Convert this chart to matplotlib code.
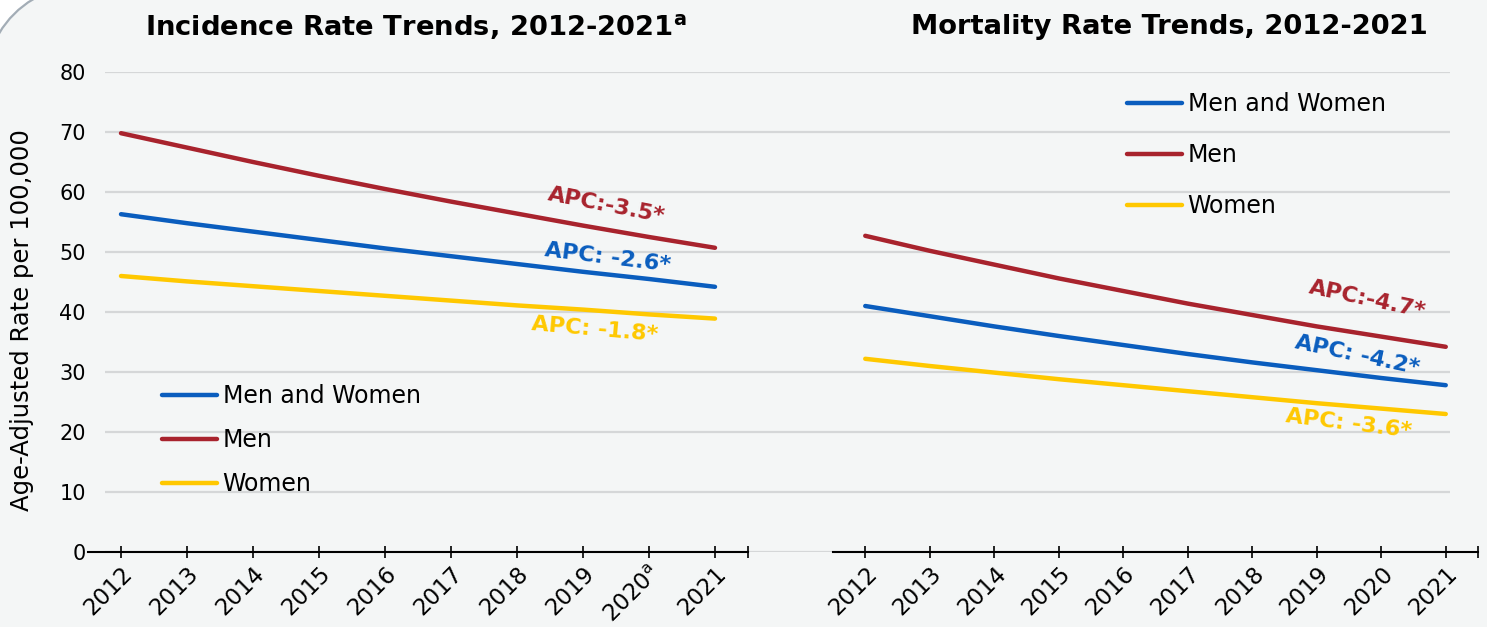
import matplotlib.pyplot as plt
from matplotlib.patches import FancyBboxPatch

# Datos
years = [2012, 2013, 2014, 2015, 2016, 2017, 2018, 2019, 2020, 2021]
inc_labels = ['2012', '2013', '2014', '2015', '2016', '2017', '2018', '2019', '2020$^{\\mathregular{a}}$', '2021']
mort_labels = ['2012', '2013', '2014', '2015', '2016', '2017', '2018', '2019', '2020', '2021']

inc_both = [56.3, 54.8, 53.4, 52.0, 50.6, 49.3, 48.0, 46.7, 45.5, 44.2]
inc_men = [69.8, 67.4, 65.0, 62.7, 60.5, 58.4, 56.4, 54.4, 52.5, 50.7]
inc_women = [46.0, 45.1, 44.3, 43.5, 42.7, 41.9, 41.1, 40.4, 39.6, 38.9]

mort_both = [41.0, 39.3, 37.6, 36.0, 34.5, 33.0, 31.6, 30.3, 29.0, 27.8]
mort_men = [52.7, 50.2, 47.9, 45.6, 43.5, 41.4, 39.5, 37.6, 35.9, 34.2]
mort_women = [32.2, 31.0, 29.9, 28.8, 27.8, 26.8, 25.8, 24.8, 23.9, 23.0]

series_names = ['Men and Women', 'Men', 'Women']
colors = ['#0A5DBE', '#A8232D', '#FFC800']
inc_apc = ['APC: -2.6*', 'APC:-3.5*', 'APC: -1.8*']
mort_apc = ['APC: -4.2*', 'APC:-4.7*', 'APC: -3.6*']

W, H = 1487, 627
fig = plt.figure(figsize=(W / 100, H / 100), dpi=100, facecolor='white')

# Fondo con esquina redondeada (solo se ve el arco de arriba a la izquierda)
bg = fig.add_axes([0, 0, 1, 1])
bg.set_xlim(0, W)
bg.set_ylim(0, H)
bg.axis('off')
bg.add_patch(FancyBboxPatch((-20, -200), W + 300, H + 220,
                            boxstyle='round,pad=0,rounding_size=136',
                            facecolor='#F4F6F6', edgecolor='#A3ADB6', lw=1.6))

y0 = (H - 552) / H
hgt = 480 / H

# Lineas de cuadricula continuas
grid = fig.add_axes([105 / W, y0, 1345 / W, hgt])
grid.set_ylim(0, 80)
grid.set_xlim(0, 1)
grid.patch.set_visible(False)
for s in grid.spines.values():
    s.set_visible(False)
grid.set_xticks([])
grid.set_yticks(range(0, 81, 10))
grid.tick_params(axis='y', length=0, labelleft=False)
grid.grid(axis='y', color='#D5D7D8', lw=1.6)

ax1 = fig.add_axes([88 / W, y0, 660 / W, hgt])
ax2 = fig.add_axes([833 / W, y0, 645 / W, hgt])

x = list(range(len(years)))
for ax, data, labels in [(ax1, [inc_both, inc_men, inc_women], inc_labels),
                         (ax2, [mort_both, mort_men, mort_women], mort_labels)]:
    ax.patch.set_visible(False)
    for k, vals in enumerate(data):
        ax.plot(x, vals, color=colors[k], lw=3.2, solid_capstyle='round', label=series_names[k])
    ax.set_xlim(-0.5, 9.5)
    ax.set_ylim(0, 80)
    for s in ['top', 'right', 'left']:
        ax.spines[s].set_visible(False)
    ax.spines['bottom'].set_linewidth(1.5)
    ax.set_xticks(x)
    ax.set_xticks([9.5], minor=True)
    ax.set_xticklabels(labels, rotation=45, ha='right', rotation_mode='anchor', fontsize=16.5)
    ax.tick_params(axis='x', which='both', direction='inout', length=9, width=1.2, pad=3)
    ax.set_yticks([])

ax1.set_yticks(range(0, 81, 10))
ax1.tick_params(axis='y', length=0, labelsize=15, pad=1.5)
ax1.set_ylabel('Age-Adjusted Rate per 100,000', fontsize=17.5)
ax1.yaxis.set_label_coords((34 - 88) / 660, (552 - 320) / 480)

# Etiquetas APC
apc1_pos = [(7.38, 49.0, -7), (7.35, 57.8, -11), (7.17, 37.0, -5)]
apc2_pos = [(7.62, 32.8, -12), (7.78, 42.0, -12), (7.5, 21.3, -7)]
for k in range(3):
    xx, yy, r = apc1_pos[k]
    ax1.text(xx, yy, inc_apc[k], color=colors[k], fontsize=16, fontweight='bold',
             rotation=r, ha='center', va='center', rotation_mode='anchor')
    xx, yy, r = apc2_pos[k]
    ax2.text(xx, yy, mort_apc[k], color=colors[k], fontsize=16, fontweight='bold',
             rotation=r, ha='center', va='center', rotation_mode='anchor')

# Titulos
fig.text(416 / W, 1 - 27 / H, 'Incidence Rate Trends, 2012-2021$^{\\mathregular{a}}$',
         fontsize=19.7, fontweight='bold', ha='center', va='center')
fig.text(1169 / W, 1 - 27 / H, 'Mortality Rate Trends, 2012-2021',
         fontsize=19.7, fontweight='bold', ha='center', va='center')

leg_kw = dict(frameon=False, fontsize=17, handlelength=2.3, handletextpad=0.25,
              borderaxespad=0)
ax1.legend(loc='upper left', bbox_to_anchor=((153 - 88) / 660, (552 - 375) / 480),
           labelspacing=0.84, **leg_kw)
ax2.legend(loc='upper left', bbox_to_anchor=((1118 - 833) / 645, (552 - 83) / 480),
           labelspacing=1.14, **leg_kw)

fig.savefig('out.png', dpi=100, facecolor=fig.get_facecolor())
